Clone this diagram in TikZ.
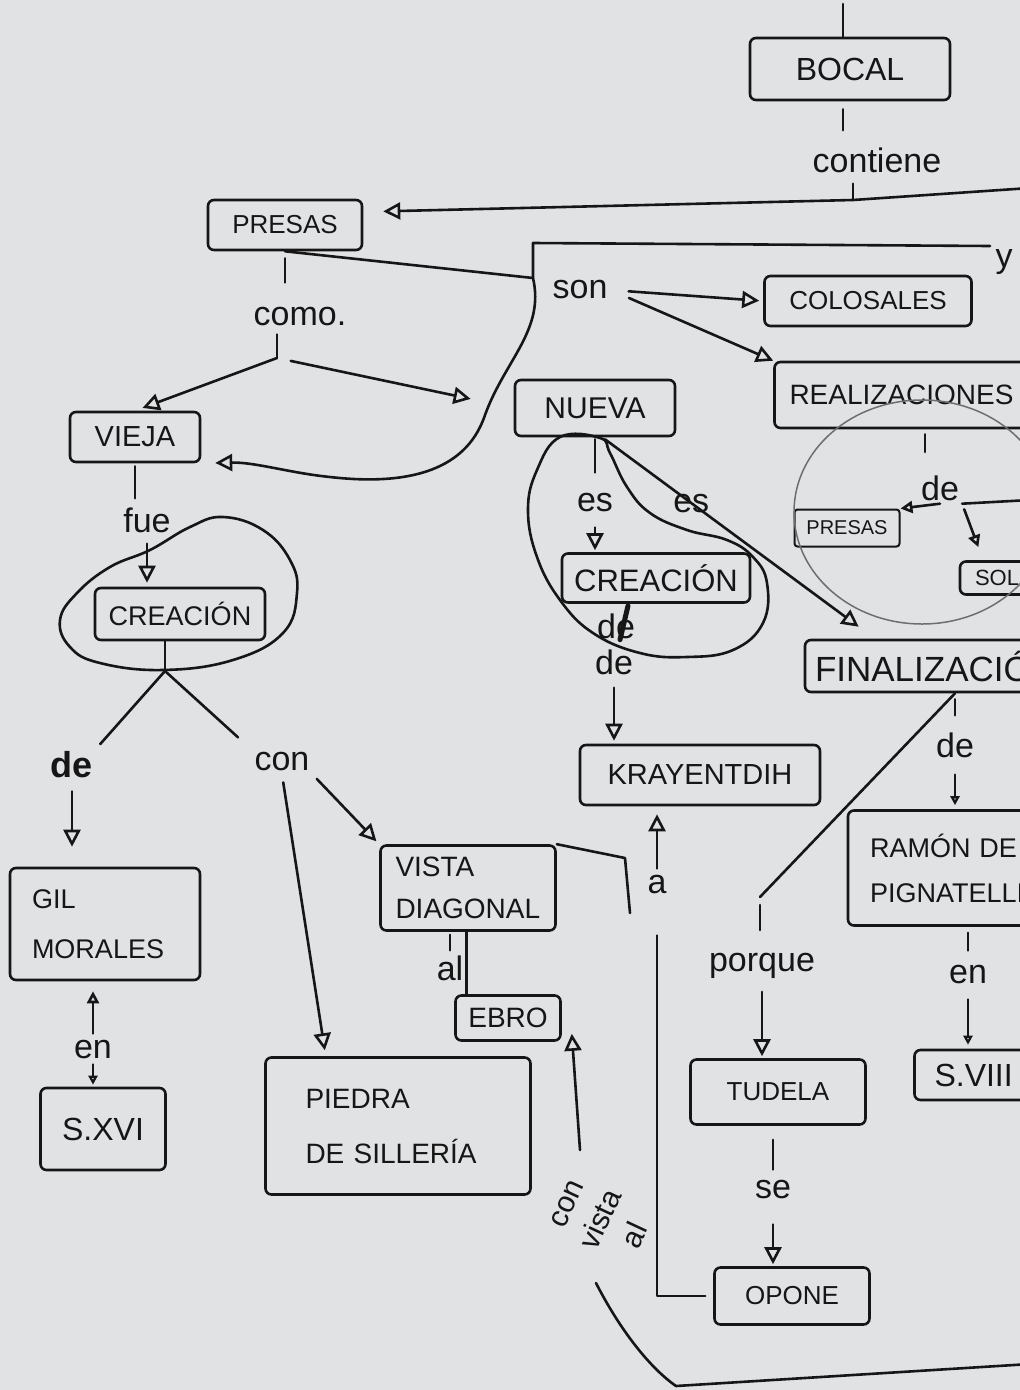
\documentclass[tikz,border=0pt]{standalone}
\usepackage{fontspec}
\setmainfont{Liberation Sans}
\usetikzlibrary{arrows.meta,calc}
\definecolor{paper}{RGB}{225,226,228}
\definecolor{ink}{RGB}{22,22,22}
\definecolor{pencil}{RGB}{110,110,110}
\begin{document}
\begin{tikzpicture}[x=1pt,y=-1pt,
 inkline/.style={draw=ink,line width=2.6pt,line cap=round,line join=round},
 cbox/.style={draw=ink,line width=2.6pt,rounded corners=6pt,inner sep=0pt,align=center,text=ink,font=\fontsize{32}{38}\selectfont},
 lbl/.style={text=ink,inner sep=3pt,font=\fontsize{34}{38}\selectfont},
 arr/.style={-{Triangle[open,length=17pt,width=17pt]}},
 marr/.style={-{Triangle[open,length=12pt,width=12pt]}},
 sarr/.style={-{Triangle[open,length=9pt,width=9pt]}},
]
\useasboundingbox (0,0) rectangle (1020,1390);
\fill[paper] (0,0) rectangle (1020,1390);
\clip (0,0) rectangle (1020,1390);

% ---------- boxes ----------
\node[cbox,minimum width=200pt,minimum height=62pt] (bocal) at (850,69) {BOCAL};
\node[cbox,minimum width=154pt,minimum height=50pt,font=\fontsize{26}{32}\selectfont] (presas) at (285,225) {PRESAS};
\node[cbox,minimum width=207pt,minimum height=50pt,font=\fontsize{26}{32}\selectfont] (colosales) at (868,301) {COLOSALES};
\node[cbox,minimum width=305pt,minimum height=66pt,text width=275pt,align=left,font=\fontsize{28}{34}\selectfont] (realiz) at (927,395) {REALIZACIONES};
\node[cbox,minimum width=130pt,minimum height=50pt,font=\fontsize{29}{34}\selectfont] (vieja) at (135,437) {VIEJA};
\node[cbox,minimum width=160pt,minimum height=56pt,font=\fontsize{30}{36}\selectfont] (nueva) at (595,408) {NUEVA};
\node[cbox,minimum width=170pt,minimum height=52pt,font=\fontsize{27}{32}\selectfont] (crea1) at (180,614) {CREACIÓN};
\node[cbox,minimum width=188pt,minimum height=49pt,font=\fontsize{31}{36}\selectfont] (crea2) at (656,578) {CREACIÓN};
\node[cbox,minimum width=240pt,minimum height=60pt,font=\fontsize{29}{34}\selectfont] (krayen) at (700,775) {KRAYENTDIH};
\node[cbox,minimum width=300pt,minimum height=52pt,text width=280pt,align=left,font=\fontsize{35}{40}\selectfont] (finaliz) at (955,666) {FINALIZACIÓN};
\node[cbox,minimum width=105pt,minimum height=37pt,line width=2pt,rounded corners=3pt,font=\fontsize{20}{24}\selectfont] (presas2) at (847,528) {PRESAS};
\node[cbox,minimum width=120pt,minimum height=33pt,text width=90pt,align=left,font=\fontsize{22}{26}\selectfont] (sol) at (1020,578) {SOL};
\node[cbox,minimum width=190pt,minimum height=112pt,text width=146pt,align=left,font=\fontsize{27}{50}\selectfont] (gil) at (105,924) {GIL\\MORALES};
\node[cbox,minimum width=125pt,minimum height=82pt,font=\fontsize{32}{36}\selectfont] (sxvi) at (103,1129) {S.XVI};
\node[cbox,minimum width=265pt,minimum height=137pt,text width=185pt,align=left,font=\fontsize{28}{55}\selectfont] (piedra) at (398,1126) {PIEDRA\\DE SILLERÍA};
\node[cbox,minimum width=175pt,minimum height=85pt,text width=145pt,align=left,font=\fontsize{28}{42}\selectfont] (vista) at (468,888) {VISTA\\DIAGONAL};
\node[cbox,minimum width=105pt,minimum height=45pt,font=\fontsize{28}{32}\selectfont] (ebro) at (508,1018) {EBRO};
\node[cbox,minimum width=250pt,minimum height=115pt,text width=206pt,align=left,font=\fontsize{27}{45}\selectfont] (ramon) at (973,868) {RAMÓN DE\\PIGNATELLI};
\node[cbox,minimum width=175pt,minimum height=50pt,text width=135pt,align=left,font=\fontsize{32}{36}\selectfont] (sviii) at (1002,1075) {S.VIII};
\node[cbox,minimum width=175pt,minimum height=65pt,font=\fontsize{26}{32}\selectfont] (tudela) at (778,1092) {TUDELA};
\node[cbox,minimum width=155pt,minimum height=57pt,font=\fontsize{26}{30}\selectfont] (opone) at (792,1296) {OPONE};

% ---------- labels ----------
\node[lbl] (contiene) at (877,160) {contiene};
\node[lbl] (son) at (580,290) {son};
\node[lbl] (como) at (300,317) {como.};
\node[lbl] (fue) at (147,520) {fue};
\node[lbl,font=\bfseries\fontsize{36}{40}\selectfont] (de1) at (72,765) {de};
\node[lbl] (con) at (282,762) {con};
\node[lbl] (en1) at (93,1050) {en};
\node[lbl] (al) at (450,968) {al};
\node[lbl,font=\fontsize{30}{38}\selectfont,rotate=65,align=center] (cva) at (602,1220) {con\\vista\\al};
\node[lbl] (a) at (657,885) {a};
\node[lbl] (es1) at (595,503) {es};
\node[lbl] (de2x) at (616,626) {de};
\node[lbl] (de2) at (614,662) {de};
\node[lbl] (de3) at (940,488) {de};
\node[lbl] (de4) at (955,745) {de};
\node[lbl] (en2) at (968,975) {en};
\node[lbl] (porque) at (762,966) {porque};
\node[lbl] (se) at (773,1190) {se};
\node[lbl] (yy) at (1004,262) {y};

% ---------- coordinates ----------
\coordinate (topin) at (843,4);
\coordinate (jct) at (853,200);
\coordinate (redge) at (1030,188);
\coordinate (sonc) at (533,278);
\coordinate (sontl) at (533,243);
\coordinate (ytop) at (990,246);
\coordinate (cj) at (277,358);
\coordinate (bj) at (165,671);
\coordinate (vx1) at (625,858);
\coordinate (vx2) at (630,913);
\coordinate (cv1) at (580,1150);
\coordinate (cv2) at (596,1283);
\coordinate (cv3) at (676,1386);
\coordinate (redge2) at (1030,1364);
\coordinate (d3t) at (925,452);
\coordinate (d3r) at (1030,500);
\coordinate (pj) at (760,897);

% ---------- top ----------
\draw[inkline] (topin) -- (topin |- bocal.north);
\draw[inkline,shorten <=8pt,shorten >=14pt] (bocal.south -| topin) -- (topin |- contiene.north);
\draw[inkline,shorten <=8pt] (contiene.south -| jct) -- (jct);
\draw[inkline,arr,shorten >=20pt] (redge) -- (jct) -- ($(presas.north east)!0.5!(presas.east)$);

% presas -> son, blob to vieja
\draw[inkline] (presas.south) -- (sonc);
\draw[inkline,arr,shorten >=14pt] (ytop) -- (sontl) -- (sonc) .. controls (545,330) and (505,360) .. (485,415) .. controls (465,475) and (400,485) .. (330,477) .. controls (290,473) and (255,462) .. (vieja.south east);
\draw[inkline,arr,shorten <=18pt,shorten >=4pt] (son.east) -- (colosales.west);
\draw[inkline,arr,shorten <=20pt] (son.east) -- (realiz.north west);

% como
\draw[inkline,shorten <=7pt,shorten >=22pt] (presas.south) -- (presas.south |- como.north);
\draw[inkline,shorten <=5pt] (como.south -| cj) -- (cj);
\draw[inkline,arr,shorten >=8pt] (cj) -- (vieja.north);
\draw[inkline,arr,shorten <=14pt,shorten >=44pt] (cj) -- (nueva.west);

% vieja branch
\draw[inkline,shorten <=3pt,shorten >=6pt] (vieja.south) -- (vieja.south |- fue.north);
\draw[inkline,arr,shorten <=8pt,shorten >=4pt] (fue.south) -- (fue.south |- crea1.north);
\draw[inkline] plot[smooth cycle,tension=0.7] coordinates {(77,593) (60,620) (70,647) (100,663) (163,670) (233,660) (283,633) (297,593) (290,560) (263,530) (223,517) (190,527) (150,550) (110,567)};
\draw[inkline] (crea1.south -| bj) -- (bj);
\draw[inkline,shorten >=6pt] (bj) -- (de1.north east);
\draw[inkline,shorten >=18pt] (bj) -- (con.north west);
\draw[inkline,arr,shorten <=10pt,shorten >=20pt] (de1.south) -- (de1.south |- gil.north);
\draw[inkline,marr,shorten <=4pt,shorten >=10pt] (en1.north) -- (en1.north |- gil.south);
\draw[inkline,sarr,shorten <=2pt,shorten >=2pt] (en1.south) -- (en1.south |- sxvi.north);
\draw[inkline,arr,shorten <=8pt,shorten >=6pt] (con.south) -- ($(piedra.north west)!0.23!(piedra.north east)$);
\draw[inkline,arr,shorten <=6pt,shorten >=4pt] (con.south east) -- (vista.north west);
\draw[inkline,shorten <=3pt,shorten >=2pt] (vista.south -| al) -- (al.north);
\draw[inkline] (vista.south -| al.east) -- (al.east |- ebro.north);
\draw[inkline] (vista.north east) -- (vx1) -- (vx2);

% con vista al
\draw[inkline,arr] (cv1) -- ($(ebro.south east)+(10,-8)$);
\draw[inkline] (cv2) .. controls (620,1330) and (650,1368) .. (cv3) -- (redge2);

% nueva branch
\draw[inkline,shorten <=2pt,shorten >=18pt] (nueva.south -| es1) -- (es1.north);
\draw[inkline,arr,shorten <=12pt,shorten >=2pt] (es1.south) -- (es1.south |- crea2.north);
\draw[inkline] plot[smooth cycle,tension=0.7] coordinates {(560,437) (537,470) (528,510) (537,557) (560,600) (593,633) (640,653) (687,657) (733,650) (763,623) (767,583) (753,557) (727,540) (687,530) (650,513) (627,487) (610,453) (600,438)};
\draw[inkline,arr] ($(nueva.south)+(10,2)$) -- node[lbl,pos=0.34] (es2) {es} ($(finaliz.north west)+(55,-12)$);
\draw[ink,line width=5pt,line cap=round] ($(crea2.south)+(-28,2)$) -- ($(de2x.south)+(4,-2)$);
\draw[inkline,arr,shorten <=10pt,shorten >=3pt] (de2.south) -- (de2.south |- krayen.north);
\draw[inkline,arr,shorten <=4pt,shorten >=8pt] (a.north) -- (a.north |- krayen.south);
\draw[inkline,shorten <=38pt,shorten >=8pt] (a.south) -- (a.south |- opone.west) -- (opone.west);

% realizaciones
\draw[pencil,line width=1.5pt] (922,512) ellipse [x radius=128pt,y radius=112pt];
\draw[inkline,shorten <=5pt] (d3t |- realiz.south) -- (d3t);
\draw[inkline,marr] (de3.south) -- (presas2.north east);
\draw[inkline] (de3.south east) -- (d3r);
\draw[inkline,marr,shorten <=6pt,shorten >=14pt] (de3.south east) -- ($(sol.north west)!0.2!(sol.north east)$);

% finalizacion
\draw[inkline,shorten <=6pt,shorten >=14pt] (finaliz.south -| de4) -- (de4.north);
\draw[inkline,sarr,shorten <=14pt,shorten >=4pt] (de4.south) -- (de4.south |- ramon.north);
\draw[inkline,shorten <=6pt,shorten >=12pt] (ramon.south -| en2) -- (en2.north);
\draw[inkline,sarr,shorten <=12pt,shorten >=4pt] (en2.south) -- (en2.south |- sviii.north);
\draw[inkline] (finaliz.south) -- (pj);
\draw[inkline,shorten <=8pt,shorten >=20pt] (pj) -- (pj |- porque.north);
\draw[inkline,arr,shorten <=10pt,shorten >=2pt] (porque.south) -- (porque.south |- tudela.north);
\draw[inkline,shorten <=14pt,shorten >=8pt] (tudela.south -| se) -- (se.north);
\draw[inkline,arr,shorten <=22pt,shorten >=2pt] (se.south) -- (se.south |- opone.north);
\end{tikzpicture}
\end{document}
